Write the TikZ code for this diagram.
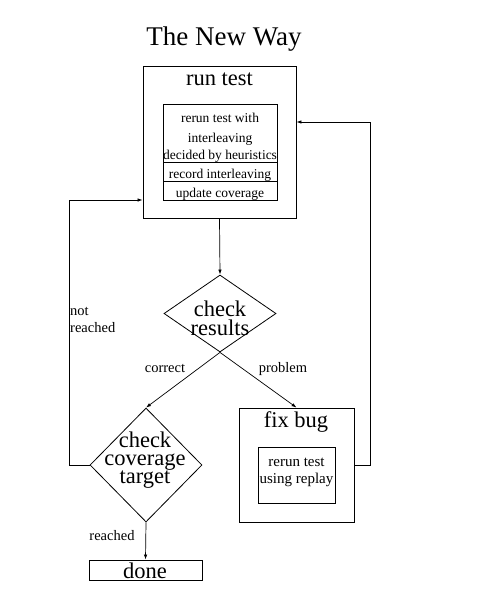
\documentclass[tikz,border=0pt]{standalone}
\usepackage{fontspec}
\setmainfont{Liberation Serif}
\usetikzlibrary{arrows.meta, shapes.geometric, positioning}

\begin{document}
\begin{tikzpicture}[x=1pt, y=-1pt, >={Latex[length=5pt,width=3.5pt]}]
    % Define styles
    \tikzstyle{box}=[rectangle, draw, line width=0.9pt, inner sep=0pt]
    \tikzstyle{decision}=[diamond, draw, line width=0.8pt, inner sep=0pt]
    \tikzstyle{big}=[font=\fontsize{22.5}{26}\selectfont, inner sep=0pt, anchor=base, text height=14pt, text depth=3pt]
    \tikzstyle{small}=[font=\fontsize{13.5}{16}\selectfont, inner sep=0pt, anchor=base]
    \tikzstyle{lbl}=[font=\fontsize{14.5}{17}\selectfont, inner sep=0pt, anchor=base]
    \tikzstyle{edge}=[draw=black, line width=0.7pt, ->]

    \useasboundingbox (0,0) rectangle (494,605);

    % Title
    \node[font=\fontsize{27}{30}\selectfont, inner sep=0pt, anchor=base] (title) at (224,45) {The New Way};

    % Draw the boxes
    \node[box, minimum width=153pt, minimum height=152pt] (runtest) at (219.5,142) {};
    \node[box, minimum width=114pt, minimum height=58pt] (rerun) at (220,133) {};
    \node[box, minimum width=114pt, minimum height=19pt] (record) at (220,171.5) {};
    \node[box, minimum width=114pt, minimum height=19pt] (update) at (220,190.5) {};
    \node[decision, minimum width=112pt, minimum height=77pt] (check) at (220,313.5) {};
    \node[decision, minimum width=112pt, minimum height=114pt] (cover) at (146,465) {};
    \node[box, minimum width=115pt, minimum height=114pt] (fixbug) at (296.5,465) {};
    \node[box, minimum width=77pt, minimum height=56pt] (replay) at (296.5,475) {};
    \node[box, minimum width=113pt, minimum height=20pt] (done) at (145.5,570) {};

    % Draw the texts
    \node[big] (runtestT) at (219.5,85) {run test};
    \foreach \name/\txt/\y in {rt1/rerun test with/122, rt2/interleaving/142,
        rt3/decided by heuristics/159, rt4/record interleaving/178, rt5/update coverage/197}
        \node[small] (\name) at (220,\y) {\txt};
    \foreach \name/\txt/\x/\y in {ch1/check/220/316, ch2/results/220/335,
        cv1/check/145/447, cv2/coverage/145/465, cv3/target/145/483,
        fb1/fix bug/296/427, dn1/done/145/578}
        \node[big] (\name) at (\x,\y) {\txt};
    \node[small, font=\fontsize{15}{17}\selectfont] (rp1) at (296.5,466) {rerun test};
    \node[small, font=\fontsize{15}{17}\selectfont] (rp2) at (296.5,483) {using replay};

    % Draw the edges
    \coordinate (lcorner) at (69,200);
    \coordinate (rcorner) at (370,122);
    \draw[edge] (runtest.south) -- (check.north);
    \draw[edge] (check.south) -- (cover.north);
    \draw[edge] (check.south) -- (fixbug.north);
    \draw[edge] (cover.south) -- (done.north);
    \draw[edge] (cover.west) -| (lcorner) -- (lcorner -| runtest.west);
    \draw[edge] (fixbug.east) -| (rcorner) -- (rcorner -| runtest.east);

    % Edge labels
    \node[lbl] (correct) at (165,372) {correct};
    \node[lbl] (problem) at (283,372) {problem};
    \node[lbl, anchor=base west] (nr1) at (70,315) {not};
    \node[lbl, anchor=base west] (nr2) at (70,332) {reached};
    \node[lbl] (reached) at (112,540) {reached};
\end{tikzpicture}
\end{document}
